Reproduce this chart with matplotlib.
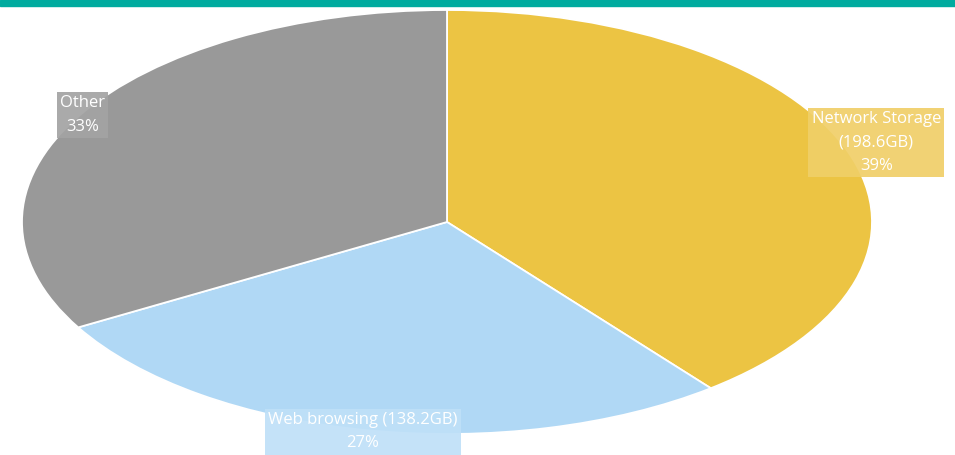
import matplotlib.pyplot as plt
from matplotlib.patches import Rectangle

# --- data ---
categories = ['Network Storage', 'Web browsing', 'Other']
sizes_gb = [198.6, 138.2, 168.0]
percent_labels = ['39%', '27%', '33%']
label_texts = ['Network Storage\n(198.6GB)\n39%',
               'Web browsing (138.2GB)\n27%',
               'Other\n33%']

colors = ['#ecc443', '#b0d8f5', '#999999']
box_colors = ['#f0cf68', '#bfe0f8', '#a3a3a3']
label_pos = [(1.01, 0.375), (-0.198, -0.99), (-0.858, 0.505)]

plt.rcParams['font.family'] = ['Open Sans', 'DejaVu Sans']

fig = plt.figure(figsize=(9.55, 4.55), dpi=100)
fig.patches.append(Rectangle((0, 1 - 6 / 455), 1, 6 / 455, transform=fig.transFigure,
                             color='#00ab9f', zorder=5))

# ellipse: center (447,222) px, rx 425, ry 212
ax = fig.add_axes([22 / 955, (455 - 434) / 455, 850 / 955, 424 / 455])
ax.pie(sizes_gb, colors=colors, startangle=90, counterclock=False,
       wedgeprops=dict(edgecolor='white', linewidth=1.3))
ax.set_aspect('auto')
ax.set_xlim(-1, 1)
ax.set_ylim(-1, 1)
ax.axis('off')

for txt, (x, y), bc in zip(label_texts, label_pos, box_colors):
    ax.text(x, y, txt, ha='center', va='center', color='white', fontsize=12,
            linespacing=1.6, clip_on=False,
            bbox=dict(boxstyle='square,pad=0.2', facecolor=bc, edgecolor='none', alpha=0.92))

fig.savefig('out.png', dpi=100)
